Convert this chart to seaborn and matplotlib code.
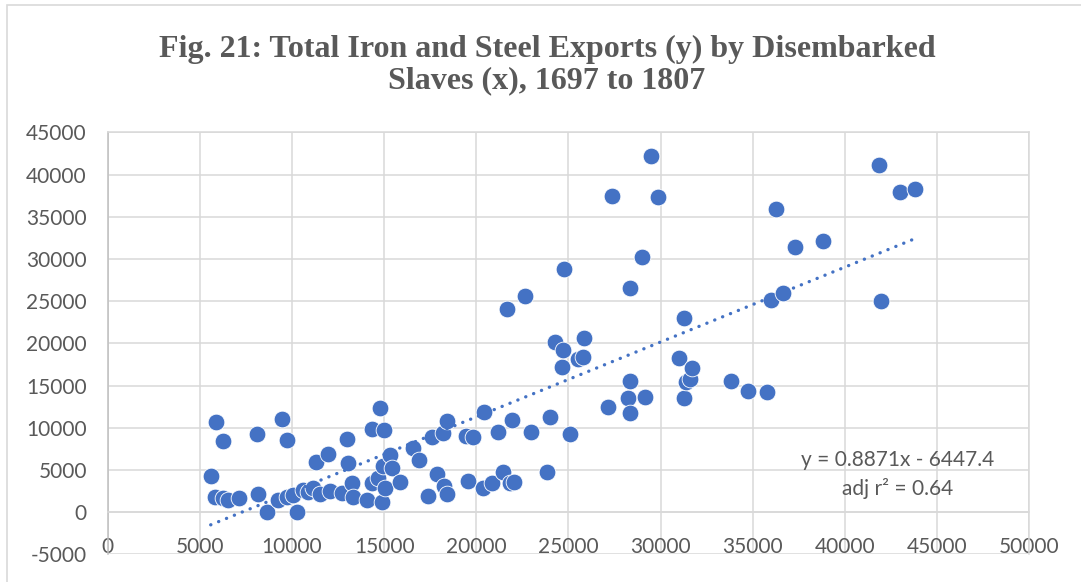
import numpy as np
import pandas as pd
import matplotlib
matplotlib.use("Agg")
import matplotlib.pyplot as plt
from matplotlib.patches import Rectangle
import seaborn as sns

# disembarked slaves (x) and iron & steel exports (y)
slaves = [5590, 5890, 6240, 5820, 6270, 6550, 7140, 8090, 8170, 8630,
          9260, 9480, 9710, 9750, 10070, 10260, 10580, 10890, 11160, 11300,
          11520, 11970, 12060, 12700, 13000, 13040, 13240, 13330, 14060, 14330,
          14330, 14690, 14780, 14870, 14960, 15000, 15050, 15320, 15410, 15860,
          16550, 16910, 17400, 17580, 17850, 18210, 18270, 18400, 18430, 19440,
          19570, 19810, 20380, 20440, 20840, 21200, 21470, 21800, 21960, 22050,
          22990, 23820, 24000, 25090, 27170,
          21650, 22620, 24260, 24670, 24720, 24780, 25500, 25780, 25850, 27350,
          28250, 28310, 28310, 28340, 29000, 29160, 29480, 29850, 30970, 31270,
          31290, 31380, 31600, 31710, 33830, 34760, 35780, 36000, 36280, 36650,
          37300, 38820, 41860, 41970, 43000, 43810]
exports = [4340, 10740, 8450, 1850, 1660, 1460, 1660, 9280, 2130, 0,
           1420, 11050, 1780, 8570, 2050, 0, 2640, 2440, 2840, 5920,
           2170, 6940, 2560, 2320, 8690, 5810, 3500, 1850, 1460, 3440,
           9830, 4030, 12390, 1220, 5490, 9720, 2840, 6790, 5210, 3600,
           7650, 6160, 1970, 8960, 4500, 9360, 3150, 2130, 10820, 9080,
           3710, 8960, 2920, 11880, 3440, 9480, 4740, 3440, 10940, 3560,
           9480, 4810, 11330, 9240, 12470,
           24050, 25630, 20210, 17220, 19230, 28830, 18200, 18440, 20620, 37480,
           13580, 11800, 26580, 15590, 30250, 13630, 42220, 37360, 18250, 13510,
           22990, 15470, 15760, 17060, 15560, 14370, 14250, 25150, 35940, 25940,
           31470, 32180, 41150, 25040, 37920, 38310]

# trendline from the chart label
slope = 0.8871
intercept = -6447.4
adj_r2 = 0.64

title = "Fig. 21: Total Iron and Steel Exports (y) by Disembarked\nSlaves (x), 1697 to 1807"

df = pd.DataFrame({"slaves": slaves, "exports": exports})

sns.set_theme(style="white")
plt.rcParams["font.family"] = ["Lato", "DejaVu Sans"]
plt.rcParams["axes.unicode_minus"] = False

text_col = "#595959"
grid_col = "#d9d9d9"
blue = "#4472C4"

fig = plt.figure(figsize=(10.81, 5.82), dpi=100)
ax = fig.add_axes([0.0996, 0.0473, 0.8526, 0.7254])

sns.scatterplot(data=df, x="slaves", y="exports", ax=ax, color=blue, s=145,
                edgecolor="white", linewidth=0.6, zorder=3)

# linear trendline over the data range
trend = pd.DataFrame({"x": [min(slaves), max(slaves)]})
trend["y"] = slope * trend["x"] + intercept
ax.plot(trend["x"], trend["y"], color=blue, lw=2.4, linestyle=(0, (0.05, 2.5)),
        dash_capstyle="round", zorder=4)

ax.set_xlim(0, 50000)
ax.set_ylim(-5000, 45000)
ax.set_xticks(np.arange(0, 50001, 5000))
ax.set_yticks(np.arange(-5000, 45001, 5000))
ax.set_xlabel("")
ax.set_ylabel("")
ax.grid(True, color=grid_col, lw=1.1)
ax.set_axisbelow(True)

for s in ["top", "right", "bottom"]:
    ax.spines[s].set_color(grid_col)
    ax.spines[s].set_linewidth(1.1)
ax.spines["left"].set_color("#bfbfbf")
ax.spines["left"].set_linewidth(1.1)
ax.spines["bottom"].set_position(("data", 0))

ax.tick_params(axis="x", length=0, pad=17.5, labelsize=15, labelcolor=text_col)
ax.tick_params(axis="y", length=0, pad=15, labelsize=15, labelcolor=text_col)

ax.text(0.8575, 0.19, f"y = {slope}x - {abs(intercept)}\nadj r\u00b2 = {adj_r2}",
        transform=ax.transAxes, ha="center", va="center", fontsize=15,
        color=text_col, linespacing=1.45)

fig.text(0.506, 0.888, title, ha="center", va="center", fontsize=23,
         fontweight="bold", color=text_col, family="Liberation Serif",
         linespacing=1.12)

# chart area border
fig.patches.append(Rectangle((7 / 1081, -0.05), 1.1, 1.05 - 5 / 582,
                             transform=fig.transFigure, fill=False,
                             edgecolor=grid_col, lw=1.2))

fig.savefig("out.png", dpi=100)
